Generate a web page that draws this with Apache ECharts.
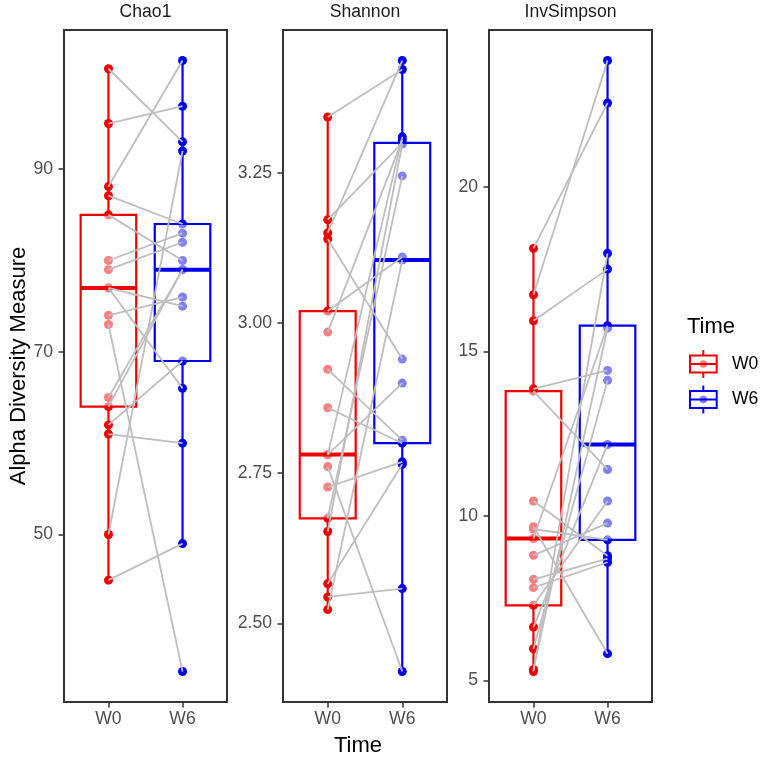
<!DOCTYPE html>
<html>
<head>
<meta charset="utf-8">
<script src="https://cdn.jsdelivr.net/npm/echarts@6/dist/echarts.min.js"></script>
<style>
html, body { margin: 0; padding: 0; background: #fff; }
#main { width: 766px; height: 764px; }
</style>
</head>
<body>
<div id="main"></div>
<script>
var times = ['W0', 'W6'];
var measures = ['Chao1', 'Shannon', 'InvSimpson'];

// same index = same subject at W0 and W6
var chao1W0 = [101, 95, 88.1, 87.1, 85, 80, 79, 77, 77, 74, 73, 65, 64, 62, 61, 50, 45];
var chao1W6 = [93, 96.9, 101.9, 84, 80, 83, 82, 75, 66, 76, 35, 79, 79, 69, 60, 92, 49];

var shannonW0 = [3.343, 3.172, 3.150, 3.140, 3.020, 2.985, 2.923, 2.859, 2.781, 2.781, 2.761, 2.727, 2.675, 2.653, 2.566, 2.544, 2.523];
var shannonW6 = [3.422, 3.300, 3.437, 2.940, 3.110, 3.305, 2.805, 2.800, 2.900, 3.310, 2.420, 2.769, 3.245, 3.298, 2.765, 2.558, 3.105];

var invSimpsonW0 = [18.13, 16.72, 15.93, 13.86, 13.79, 10.45, 9.67, 9.60, 9.31, 8.80, 8.07, 7.82, 7.28, 6.62, 5.96, 5.33, 5.27];
var invSimpsonW6 = [22.55, 23.84, 17.50, 14.42, 11.41, 8.79, 5.81, 9.27, 15.78, 9.78, 8.70, 8.59, 10.45, 12.17, 14.12, 15.71, 17.98];

var chao1Ticks = [50, 70, 90];
var shannonTicks = [2.5, 2.75, 3.0, 3.25];
var invSimpsonTicks = [5, 10, 15, 20];

var panels = [
    { name: measures[0], w0: chao1W0, w6: chao1W6, ticks: chao1Ticks, digits: 0, left: 64, width: 163 },
    { name: measures[1], w0: shannonW0, w6: shannonW6, ticks: shannonTicks, digits: 2, left: 283, width: 164 },
    { name: measures[2], w0: invSimpsonW0, w6: invSimpsonW6, ticks: invSimpsonTicks, digits: 0, left: 489, width: 163 }
];

var RED = '#F00000';
var BLUE = '#0000F0';
var LIGHT = ['#F58080', '#8080F5'];
var FONT = 'Liberation Sans, Arial, sans-serif';
var PANEL_TOP = 30, PANEL_H = 672;

function quantile(arr, p) {
    var s = arr.slice().sort(function (a, b) { return a - b; });
    var h = (s.length - 1) * p;
    var lo = Math.floor(h);
    var hi = Math.min(lo + 1, s.length - 1);
    return s[lo] + (h - lo) * (s[hi] - s[lo]);
}

// ggplot style box stats: whiskers to furthest point within 1.5 IQR
function boxStats(arr) {
    var q1 = quantile(arr, 0.25), med = quantile(arr, 0.5), q3 = quantile(arr, 0.75);
    var iqr = q3 - q1;
    var inside = arr.filter(function (v) { return v >= q1 - 1.5 * iqr && v <= q3 + 1.5 * iqr; });
    return [Math.min.apply(null, inside), q1, med, q3, Math.max.apply(null, inside)];
}

function renderBox(params, api) {
    var x = api.value(0);
    var c = api.value(6) === 0 ? RED : BLUE;
    var half = 0.375;
    var pLo = api.coord([x, api.value(1)]);
    var pQ1 = api.coord([x, api.value(2)]);
    var pMed = api.coord([x, api.value(3)]);
    var pQ3 = api.coord([x, api.value(4)]);
    var pHi = api.coord([x, api.value(5)]);
    var l = api.coord([x - half, api.value(3)])[0];
    var r = api.coord([x + half, api.value(3)])[0];
    return {
        type: 'group',
        children: [
            { type: 'line', shape: { x1: pLo[0], y1: pLo[1], x2: pQ1[0], y2: pQ1[1] }, style: { stroke: c, lineWidth: 2.2 } },
            { type: 'line', shape: { x1: pQ3[0], y1: pQ3[1], x2: pHi[0], y2: pHi[1] }, style: { stroke: c, lineWidth: 2.2 } },
            { type: 'rect', shape: { x: l, y: pQ3[1], width: r - l, height: pQ1[1] - pQ3[1] }, style: { fill: 'rgba(255,255,255,0.5)', stroke: c, lineWidth: 2.2 } },
            { type: 'line', shape: { x1: l, y1: pMed[1], x2: r, y2: pMed[1] }, style: { stroke: c, lineWidth: 4 } }
        ]
    };
}

function renderPair(params, api) {
    var a = api.coord([api.value(0), api.value(1)]);
    var b = api.coord([api.value(2), api.value(3)]);
    return { type: 'line', shape: { x1: a[0], y1: a[1], x2: b[0], y2: b[1] }, style: { stroke: '#BEBEBE', lineWidth: 1.8 } };
}

var grids = [], xAxes = [], yAxes = [], series = [], graphics = [];

panels.forEach(function (p, i) {
    var all = p.w0.concat(p.w6);
    var lo = Math.min.apply(null, all), hi = Math.max.apply(null, all);
    var pad = (hi - lo) * 0.05;

    grids.push({ left: p.left, top: PANEL_TOP, width: p.width, height: PANEL_H, show: true, borderColor: '#333', borderWidth: 2, backgroundColor: '#fff' });

    xAxes.push({
        gridIndex: i, type: 'value', min: 0.4, max: 2.6,
        axisLine: { show: false }, splitLine: { show: false },
        axisTick: { show: true, customValues: [1, 2], length: 5.5, lineStyle: { color: '#333', width: 1.5 } },
        axisLabel: {
            customValues: [1, 2], margin: 8, color: '#4D4D4D', fontSize: 17.6, fontFamily: FONT,
            formatter: function (v) { return times[Math.round(v) - 1]; }
        }
    });

    yAxes.push({
        gridIndex: i, type: 'value', min: lo - pad, max: hi + pad,
        axisLine: { show: false }, splitLine: { show: false },
        axisTick: { show: true, customValues: p.ticks, length: 5.5, lineStyle: { color: '#333', width: 1.5 } },
        axisLabel: {
            customValues: p.ticks, margin: 11, color: '#4D4D4D', fontSize: 17.6, fontFamily: FONT,
            formatter: function (v) { return v.toFixed(p.digits); }
        }
    });

    series.push({
        type: 'scatter', xAxisIndex: i, yAxisIndex: i, z: 2, symbolSize: 9,
        itemStyle: { color: RED, opacity: 1 },
        data: p.w0.map(function (v) { return [1, v]; })
    });
    series.push({
        type: 'scatter', xAxisIndex: i, yAxisIndex: i, z: 2, symbolSize: 9,
        itemStyle: { color: BLUE, opacity: 1 },
        data: p.w6.map(function (v) { return [2, v]; })
    });

    series.push({
        type: 'custom', xAxisIndex: i, yAxisIndex: i, z: 3,
        renderItem: renderBox,
        encode: { x: 0, y: [1, 2, 3, 4, 5] },
        data: [[1].concat(boxStats(p.w0), [0]), [2].concat(boxStats(p.w6), [1])]
    });

    series.push({
        type: 'custom', xAxisIndex: i, yAxisIndex: i, z: 4,
        renderItem: renderPair,
        encode: { x: [0, 2], y: [1, 3] },
        data: p.w0.map(function (v, k) { return [1, v, 2, p.w6[k]]; })
    });

    graphics.push({
        type: 'text', x: p.left + p.width / 2, y: 12,
        style: { text: p.name, fill: '#1A1A1A', font: '17.6px ' + FONT, textAlign: 'center', textVerticalAlign: 'middle' }
    });
});

// axis titles
graphics.push({
    type: 'text', x: 19, y: PANEL_TOP + PANEL_H / 2, rotation: Math.PI / 2,
    style: { text: 'Alpha Diversity Measure', fill: '#000', font: '22px ' + FONT, textAlign: 'center', textVerticalAlign: 'middle' }
});
graphics.push({
    type: 'text', x: 358, y: 746,
    style: { text: 'Time', fill: '#000', font: '22px ' + FONT, textAlign: 'center', textVerticalAlign: 'middle' }
});

// legend
graphics.push({
    type: 'text', x: 687, y: 327,
    style: { text: 'Time', fill: '#000', font: '22px ' + FONT, textAlign: 'left', textVerticalAlign: 'middle' }
});
[364, 399.5].forEach(function (cy, k) {
    var c = k === 0 ? RED : BLUE;
    graphics.push({ type: 'line', shape: { x1: 703.3, y1: cy - 14, x2: 703.3, y2: cy + 14 }, style: { stroke: c, lineWidth: 2 } });
    graphics.push({ type: 'rect', shape: { x: 690, y: cy - 8.5, width: 26.7, height: 17 }, style: { fill: '#fff', stroke: c, lineWidth: 2 } });
    graphics.push({ type: 'circle', shape: { cx: 703.3, cy: cy, r: 3.8 }, style: { fill: LIGHT[k] } });
    graphics.push({ type: 'line', shape: { x1: 690, y1: cy, x2: 716.7, y2: cy }, style: { stroke: c, lineWidth: 2 } });
    graphics.push({
        type: 'text', x: 732, y: cy,
        style: { text: times[k], fill: '#000', font: '17.6px ' + FONT, textAlign: 'left', textVerticalAlign: 'middle' }
    });
});

var myChart = echarts.init(document.getElementById('main'));
var option = {
    backgroundColor: '#fff',
    animation: false,
    grid: grids,
    xAxis: xAxes,
    yAxis: yAxes,
    series: series,
    graphic: graphics
};
myChart.setOption(option);
</script>
</body>
</html>
